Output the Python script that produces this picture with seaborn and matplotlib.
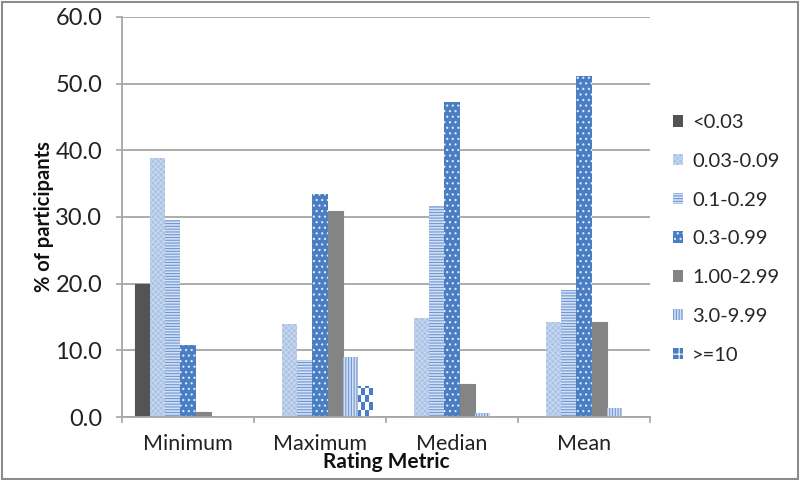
import matplotlib
matplotlib.use("Agg")
import matplotlib.pyplot as plt
from matplotlib.patches import Rectangle, Patch
import seaborn as sns
import pandas as pd

categories = ["Minimum", "Maximum", "Median", "Mean"]
series = ["<0.03", "0.03-0.09", "0.1-0.29", "0.3-0.99", "1.00-2.99", "3.0-9.99", ">=10"]
v_lt003 = [20.0, 0.0, 0.0, 0.0]
v_003_009 = [38.8, 14.0, 14.9, 14.3]
v_01_029 = [29.5, 8.5, 31.7, 19.0]
v_03_099 = [10.8, 33.5, 47.3, 51.2]
v_100_299 = [0.7, 30.9, 5.0, 14.3]
v_30_999 = [0.0, 9.0, 0.6, 1.3]
v_ge10 = [0.0, 4.6, 0.0, 0.0]
values = [v_lt003, v_003_009, v_01_029, v_03_099, v_100_299, v_30_999, v_ge10]

rows = []
for s, vals in zip(series, values):
    for c, v in zip(categories, vals):
        rows.append({"Rating Metric": c, "range": s, "pct": v})
df = pd.DataFrame(rows)

sns.set_theme(style="white")
plt.rcParams["font.family"] = ["Lato", "DejaVu Sans"]
plt.rcParams["hatch.linewidth"] = 0.8

styles = {
    "<0.03": dict(fc="#545454", ec="#545454", hatch=None),
    "0.03-0.09": dict(fc="#a9c2e5", ec="#c8d7ee", hatch="xxxxxx"),
    "0.1-0.29": dict(fc="#d4e0f3", ec="#6e97d3", hatch="------"),
    "0.3-0.99": dict(fc="#4a7ec4", ec="#e2eaf6", hatch="..."),
    "1.00-2.99": dict(fc="#848484", ec="#848484", hatch=None),
    "3.0-9.99": dict(fc="#d4e0f3", ec="#6e97d3", hatch="||||||"),
    ">=10": dict(fc="#ffffff", ec="#4a7ec4", hatch=None),
}

fig = plt.figure(figsize=(8, 4.8), dpi=100)
ax = fig.add_axes([0.1525, 0.131, 0.66, 0.834])
sns.barplot(data=df, x="Rating Metric", y="pct", hue="range", order=categories,
            hue_order=series, width=0.8, ax=ax, legend=False, saturation=1)

for s, cont in zip(series, ax.containers):
    st = styles[s]
    for p in cont:
        p.set_facecolor(st["fc"])
        p.set_edgecolor(st["ec"])
        p.set_linewidth(0 if st["hatch"] else 0.8)
        if st["hatch"]:
            p.set_hatch(st["hatch"])
        if s == ">=10" and p.get_height() > 0:
            x0, w, h = p.get_x(), p.get_width(), p.get_height()
            p.set_facecolor("#ffffff")
            p.set_linewidth(0)
            n = 4
            cw = w / n
            ch = 1.1
            j = 0
            y = 0
            while y < h - 1e-6:
                for i in range(n):
                    if (i + j) % 2 == 0:
                        ax.add_patch(Rectangle((x0 + i * cw, y), cw, min(ch, h - y),
                                               fc="#4a7ec4", ec="none", zorder=p.get_zorder()))
                y += ch
                j += 1

grey = "#a6a6a6"
ax.set_ylim(0, 60)
ax.set_xlim(-0.5, 3.5)
ax.set_yticks(range(0, 61, 10))
ax.set_yticklabels([f"{v:.1f}" for v in range(0, 61, 10)], fontsize=17, color="#222222")
ax.yaxis.grid(True, color=grey, linewidth=1.3)
ax.set_axisbelow(True)
ax.tick_params(axis="y", length=4.3, width=1.2, color=grey, pad=10, left=True, direction="out")
ax.set_xticks(range(4))
ax.set_xticklabels(categories, fontsize=15.5, color="#222222")
ax.tick_params(axis="x", which="major", length=0, pad=12)
ax.set_xticks([-0.5, 0.5, 1.5, 2.5, 3.5], minor=True)
ax.tick_params(axis="x", which="minor", length=4, color=grey, width=1.2, direction="out", bottom=True)
for sp in ["top", "right"]:
    ax.spines[sp].set_visible(False)
for sp in ["left", "bottom"]:
    ax.spines[sp].set_color(grey)
    ax.spines[sp].set_linewidth(1.3)
ax.set_xlabel("Rating Metric", fontsize=15, fontweight="bold", color="#111111")
ax.xaxis.set_label_coords(0.5, -0.1125)
ax.xaxis.label.set_va("center")
ax.set_ylabel("% of participants", fontsize=14.5, fontweight="bold", color="#111111")
ax.yaxis.set_label_coords(-0.147, 0.5)
ax.yaxis.label.set_va("center")

handles = []
for s in series:
    st = styles[s]
    if s == ">=10":
        handles.append(Patch(fc="#4a7ec4", ec="#ffffff", hatch="++", lw=0))
    else:
        handles.append(Patch(fc=st["fc"], ec=st["ec"], hatch=st["hatch"], lw=0))
fig.legend(handles, series, loc="upper left", bbox_to_anchor=(0.831, 0.779),
           frameon=False, fontsize=14.5, handlelength=0.5, handleheight=0.5,
           labelspacing=1.08, handletextpad=0.45, borderaxespad=0)

fig.patches.append(Rectangle((0.002, 0.003), 0.995, 0.993, transform=fig.transFigure,
                             fill=False, ec="#8c8c8c", lw=1.5))
fig.savefig("out.png", dpi=100)
